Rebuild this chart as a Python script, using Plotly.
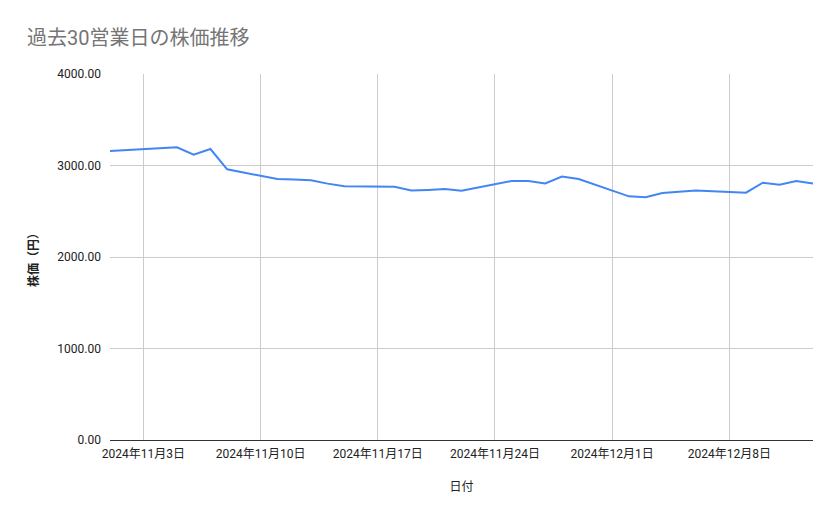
import plotly.graph_objects as go

dates = [
    "2024-11-01", "2024-11-05", "2024-11-06", "2024-11-07", "2024-11-08",
    "2024-11-11", "2024-11-12", "2024-11-13", "2024-11-14", "2024-11-15",
    "2024-11-18", "2024-11-19", "2024-11-20", "2024-11-21", "2024-11-22",
    "2024-11-25", "2024-11-26", "2024-11-27", "2024-11-28", "2024-11-29",
    "2024-12-02", "2024-12-03", "2024-12-04", "2024-12-05", "2024-12-06",
    "2024-12-09", "2024-12-10", "2024-12-11", "2024-12-12", "2024-12-13",
]
prices = [
    3158, 3199, 3118, 3180, 2958,
    2852, 2848, 2838, 2802, 2772,
    2768, 2726, 2733, 2742, 2723,
    2831, 2831, 2803, 2880, 2852,
    2663, 2652, 2699, 2714, 2728,
    2703, 2812, 2790, 2831, 2803,
]
tick_dates = ["2024-11-03", "2024-11-10", "2024-11-17", "2024-11-24", "2024-12-01", "2024-12-08"]
tick_labels = ["2024年11月3日", "2024年11月10日", "2024年11月17日", "2024年11月24日", "2024年12月1日", "2024年12月8日"]
y_ticks = [0, 1000, 2000, 3000, 4000]

FONT = "Roboto, 'Noto Sans CJK JP', sans-serif"

# page body has an 8px margin, so the figure is a bit smaller than the window
fig = go.Figure()
fig.add_trace(go.Scatter(
    x=dates,
    y=prices,
    mode="lines",
    line=dict(color="#4285F4", width=2),
    name="株価",
))

fig.update_layout(
    width=831,
    height=511,
    margin=dict(l=102, r=26, t=66, b=79),
    paper_bgcolor="white",
    plot_bgcolor="white",
    showlegend=False,
    font=dict(family=FONT, size=12, color="#222222"),
    title=dict(
        text="過去30営業日の株価推移",
        x=19 / 831, xref="container", xanchor="left",
        y=1 - 30 / 511, yref="container", yanchor="middle",
        font=dict(family=FONT, size=20, color="#757575"),
    ),
    xaxis=dict(
        type="date",
        range=["2024-11-01", "2024-12-13"],
        tickvals=tick_dates,
        ticktext=tick_labels,
        showgrid=True,
        gridcolor="#CCCCCC",
        showline=True,
        linecolor="#333333",
        linewidth=1,
        ticks="",
        ticklabelstandoff=3,
        zeroline=False,
        title=dict(text="日付", standoff=22, font=dict(size=12, color="#222222")),
    ),
    yaxis=dict(
        range=[0, 4000],
        tickvals=y_ticks,
        tickformat=".2f",
        showgrid=True,
        gridcolor="#CCCCCC",
        zeroline=False,
        ticks="",
        ticklabelstandoff=8,
        title=dict(text="<b>株価（円）</b>", standoff=16, font=dict(size=12, color="#222222")),
    ),
)

fig.write_html("out.html")
